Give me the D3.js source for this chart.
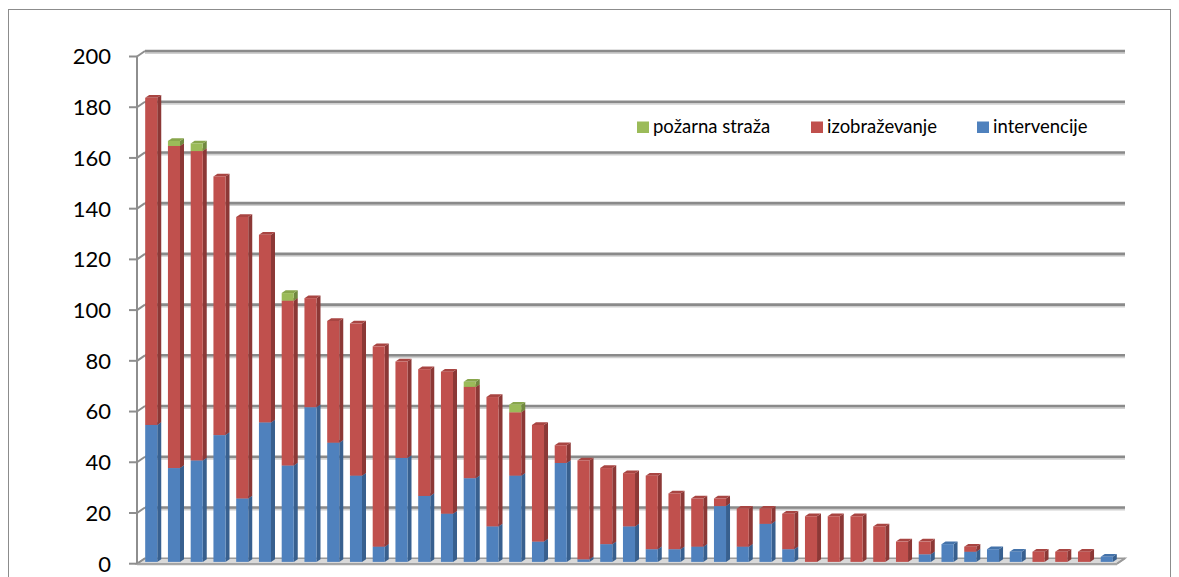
<!DOCTYPE html>
<html>
<head>
<meta charset="utf-8">
<script src="https://cdn.jsdelivr.net/npm/d3@7/dist/d3.min.js"></script>
<style>
  html, body { margin: 0; padding: 0; background: #fff; }
  svg { display: block; }
</style>
</head>
<body>
<svg id="chart" width="1179" height="577"></svg>
<script>
// ---- data ----
const categories = d3.range(1, 44).map(String);
const seriesNames = ["intervencije", "izobraževanje", "požarna straža"];
const intervencije = [54,37,40,50,25,55,38,61,47,34,6,41,26,19,33,14,34,8,39,1,7,14,5,5,6,22,6,15,5,0,0,0,0,0,3,7,4,5,4,0,0,0,2];
const izobrazevanje = [129,127,122,102,111,74,65,43,48,60,79,38,50,56,36,51,25,46,7,39,30,21,29,22,19,3,15,6,14,18,18,18,14,8,5,0,2,0,0,4,4,4,0];
const pozarnaStraza = [0,2,3,0,0,0,3,0,0,0,0,0,0,0,2,0,3,0,0,0,0,0,0,0,0,0,0,0,0,0,0,0,0,0,0,0,0,0,0,0,0,0,0];
const yTicks = [0,20,40,60,80,100,120,140,160,180,200];

const colors = {
  "intervencije":   {front: "#4f81bd", side: "#38608f", top: "#4473aa"},
  "izobraževanje":  {front: "#c0504d", side: "#8c3836", top: "#a84542"},
  "požarna straža": {front: "#9bbb59", side: "#71893f", top: "#88a64c"}
};

const svg = d3.select("#chart");

// outer border
svg.append("rect").attr("x", 8.5).attr("y", 9.5).attr("width", 1162).attr("height", 600)
  .attr("fill", "none").attr("stroke", "#8c8c8c").attr("stroke-width", 1);

// 3D depth vector (front -> back wall)
const DX = 8, DY = -5.5;

// scales (front plane)
const yF = d3.scaleLinear().domain([0, 200]).range([563.7, 56.5]);
const x = d3.scaleBand().domain(categories).range([137.2, 1115.5]).paddingInner(0.47).paddingOuter(0.235);

const frontLeft = 137, frontRight = 1117;

// floor
const g = svg.append("g");
g.append("polygon")
  .attr("points", [[frontLeft, yF(0)], [frontRight, yF(0)], [frontRight + DX, yF(0) + DY], [frontLeft + DX, yF(0) + DY]].map(p => p.join(",")).join(" "))
  .attr("fill", "#d9d9d9").attr("stroke", "#9a9a9a").attr("stroke-width", 1.5);

// gridlines on back wall
yTicks.forEach(v => {
  if (v === 0) return;
  const yb = yF(v) + DY;
  g.append("line").attr("x1", frontLeft + DX).attr("x2", frontRight + DX)
    .attr("y1", yb + 1.7).attr("y2", yb + 1.7).attr("stroke", "#d0d0d0").attr("stroke-width", 2.5);
  g.append("line").attr("x1", frontLeft + DX).attr("x2", frontRight + DX)
    .attr("y1", yb).attr("y2", yb).attr("stroke", "#8a8a8a").attr("stroke-width", 2.6);
});
// diagonals from axis ticks to back wall
yTicks.forEach(v => {
  g.append("line").attr("x1", frontLeft).attr("y1", yF(v))
    .attr("x2", frontLeft + DX).attr("y2", yF(v) + DY)
    .attr("stroke", "#8e8e8e").attr("stroke-width", 2);
});
// right end of floor
g.append("line").attr("x1", frontRight).attr("y1", yF(0)).attr("x2", frontRight + DX).attr("y2", yF(0) + DY)
  .attr("stroke", "#9a9a9a").attr("stroke-width", 2);
g.append("line").attr("x1", frontLeft).attr("x2", frontRight).attr("y1", yF(0) + 0.5).attr("y2", yF(0) + 0.5)
  .attr("stroke", "#a6a6a6").attr("stroke-width", 2);

// vertical axis and ticks
g.append("line").attr("x1", frontLeft).attr("x2", frontLeft).attr("y1", yF(0)).attr("y2", yF(200))
  .attr("stroke", "#8e8e8e").attr("stroke-width", 2);
yTicks.forEach(v => {
  g.append("line").attr("x1", frontLeft - 8).attr("x2", frontLeft).attr("y1", yF(v)).attr("y2", yF(v))
    .attr("stroke", "#8e8e8e").attr("stroke-width", 2);
  g.append("text").attr("x", 111).attr("y", yF(v)).attr("dy", "0.36em")
    .attr("text-anchor", "end").attr("font-family", "Lato, 'Open Sans', sans-serif")
    .attr("font-size", "22px").attr("fill", "#000").text(v);
});

// stacked data
const table = categories.map((c, i) => ({
  cat: c,
  "intervencije": intervencije[i],
  "izobraževanje": izobrazevanje[i],
  "požarna straža": pozarnaStraza[i]
}));
const stack = d3.stack().keys(seriesNames)(table);

// bars sit at a fraction of the depth
const fOff = 0.33, fDepth = 0.5;
const bx = DX * fOff, by = DY * fOff;
const ddx = DX * fDepth, ddy = DY * fDepth;
const pts = a => a.map(p => p.join(",")).join(" ");

const barsG = svg.append("g");
categories.forEach((c, i) => {
  const x0 = x(c) + bx, x1 = x(c) + x.bandwidth() + bx;
  stack.forEach(layer => {
    const d = layer[i];
    if (d[1] - d[0] <= 0) return;
    const col = colors[layer.key];
    const yb = yF(d[0]) + by, yt = yF(d[1]) + by;
    // side
    barsG.append("polygon").attr("points", pts([[x1, yb], [x1 + ddx, yb + ddy], [x1 + ddx, yt + ddy], [x1, yt]]))
      .attr("fill", col.side);
    // top
    barsG.append("polygon").attr("points", pts([[x0, yt], [x1, yt], [x1 + ddx, yt + ddy], [x0 + ddx, yt + ddy]]))
      .attr("fill", col.top);
    // front
    barsG.append("rect").attr("x", x0).attr("y", yt).attr("width", x1 - x0).attr("height", yb - yt)
      .attr("fill", col.front);
  });
});

// legend
const legendItems = [
  {name: "požarna straža", x: 637},
  {name: "izobraževanje", x: 811},
  {name: "intervencije", x: 977}
];
const lg = svg.append("g");
legendItems.forEach(it => {
  lg.append("rect").attr("x", it.x).attr("y", 121.5).attr("width", 12).attr("height", 11.5)
    .attr("fill", colors[it.name].front);
  lg.append("text").attr("x", it.x + 16).attr("y", 133)
    .attr("font-family", "Lato, 'Open Sans', sans-serif").attr("font-size", "18.5px")
    .attr("fill", "#000").text(it.name);
});
</script>
</body>
</html>
